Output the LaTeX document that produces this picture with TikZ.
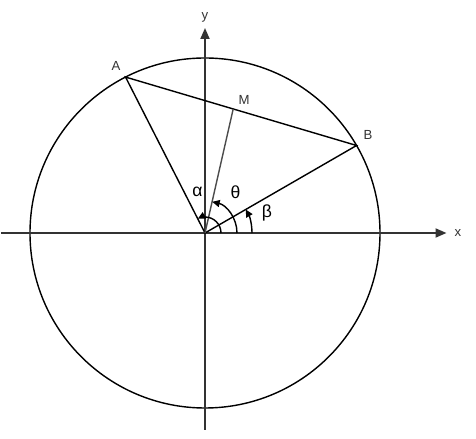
\documentclass[tikz,border=0pt]{standalone}
\usepackage{fontspec}
\setmainfont{Liberation Sans}
\usetikzlibrary{arrows.meta,calc}

\begin{document}
\begin{tikzpicture}[
    axis/.style = {draw=black!80, line width=1.1pt, -{Triangle[length=2.2mm, width=1.8mm]}},
    chord/.style = {draw=black, line width=0.8pt},
    angarc/.style = {draw=black, line width=0.8pt, -{Triangle[length=1.5mm, width=1.4mm]}},
    every node/.style={font=\fontsize{7.5}{9}\selectfont, text=black!80},
    greek/.style={font=\fontsize{10}{12}\selectfont, text=black}
]
  \useasboundingbox (-4.1,-4.12) rectangle (5.42,4.66);

  \coordinate (O) at (0,0);
  \coordinate (A) at (117:3.5);
  \coordinate (B) at (30:3.5);
  \coordinate (M) at ($(A)!0.466!(B)$);
  \coordinate (xl) at (-4.08,0);
  \coordinate (xr) at (4.83,0);
  \coordinate (yb) at (0,-3.94);
  \coordinate (yt) at (0,4.1);

  \draw[line width=0.8pt] (O) circle (3.5);
  \draw[axis] (xl) -- (xr);
  \draw[axis] (yb) -- (yt);

  \draw[chord] (O) -- (A) -- (B) -- cycle;
  \draw[chord, draw=black!70] (O) -- (M);

  \draw[angarc] (0.32,0) arc[start angle=0, end angle=117, radius=0.32];
  \draw[angarc] (0.64,0) arc[start angle=0, end angle=77, radius=0.64];
  \draw[angarc] (0.94,0) arc[start angle=0, end angle=30, radius=0.94];

  \node (xlab) at (5.06,0) {x};
  \node (ylab) at (0,4.32) {y};
  \node (Alab) at (-1.78,3.34) {A};
  \node (Mlab) at (0.78,2.66) {M};
  \node (Blab) at (3.26,1.96) {B};
  \node[greek] (alab) at (-0.15,0.83) {α};
  \node[greek] (tlab) at (0.61,0.81) {θ};
  \node[greek] (blab) at (1.24,0.4) {β};

\end{tikzpicture}
\end{document}
